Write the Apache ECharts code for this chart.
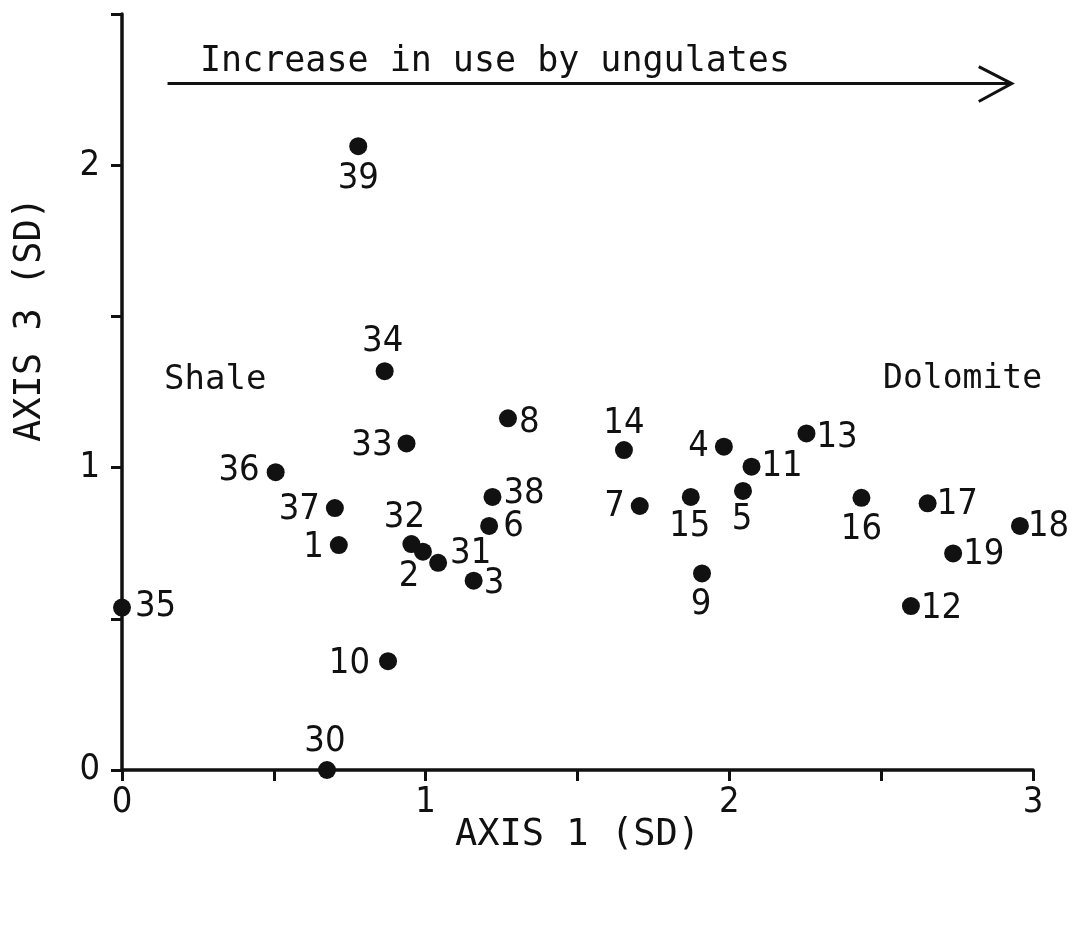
<!DOCTYPE html>
<html>
<head>
<meta charset="utf-8">
<script src="https://cdn.jsdelivr.net/npm/echarts@6/dist/echarts.min.js"></script>
<style>
html,body{margin:0;padding:0;background:#fff;}
#chart{width:1072px;height:938px;}
</style>
</head>
<body>
<div id="chart"></div>
<script>
// ---- data ----
const siteIds   = ['39','34','33','8','14','4','13','11','36','37','1','32','2','31','3','6','38','7','15','5','9','16','17','18','19','12','35','10','30'];
const axis1Vals = [0.778,0.865,0.937,1.271,1.653,1.982,2.254,2.073,0.506,0.701,0.714,0.953,0.991,1.041,1.158,1.209,1.220,1.705,1.873,2.045,1.910,2.435,2.653,2.957,2.737,2.598,0.000,0.876,0.675];
const axis3Vals = [2.063,1.319,1.080,1.163,1.058,1.069,1.113,1.003,0.985,0.866,0.744,0.747,0.722,0.685,0.626,0.807,0.903,0.873,0.903,0.923,0.650,0.900,0.882,0.807,0.716,0.542,0.537,0.360,0.000];
const xTickLabels = ['0','1','2','3'];
const yTickLabels = ['0','1','2'];
const xAxisTitle = 'AXIS 1 (SD)';
const yAxisTitle = 'AXIS 3 (SD)';
const arrowText = 'Increase in use by ungulates';
const leftZone = 'Shale';
const rightZone = 'Dolomite';

// ---- label placement (style only): [dx, dy, align] from the dot centre, in px ----
const labelShift = {
  '39':[0,32,'center'], '34':[-2,-29,'center'], '33':[-14,2,'right'], '8':[11,4,'left'],
  '14':[0,-26,'center'], '4':[-15,0,'right'], '13':[10,4,'left'], '11':[10,0,'left'],
  '36':[-16,-1,'right'], '37':[-15,2,'right'], '1':[-15,3,'right'], '32':[-7,-26,'center'],
  '2':[-14,25,'center'], '31':[12,-9,'left'], '3':[10,3,'left'], '6':[14,1,'left'],
  '38':[11,-3,'left'], '7':[-15,1,'right'], '15':[-1,30,'center'], '5':[-1,29,'center'],
  '9':[-1,31,'center'], '16':[0,32,'center'], '17':[9,1,'left'], '18':[8,1,'left'],
  '19':[10,1,'left'], '12':[10,3,'left'], '35':[13,-1,'left'], '10':[-18,3,'right'], '30':[-2,-28,'center']
};

const digitFont = '"Liberation Sans Narrow","DejaVu Sans Condensed",sans-serif';
const letterFont = '"DejaVu Sans Mono","Liberation Mono",monospace';
const ink = '#111';
const dotSize = 18;

const seriesData = siteIds.map((id, i) => {
  const s = labelShift[id] || [10, 0, 'left'];
  return {
    name: id,
    value: [axis1Vals[i], axis3Vals[i]],
    label: { position: [dotSize / 2 + s[0], dotSize / 2 + s[1]], align: s[2] }
  };
});

const chart = echarts.init(document.getElementById('chart'));
const gridLeft = 122, gridRight = 39, gridTop = 14, gridBottom = 168;

function tickFmt(list) {
  return function (v) {
    const s = String(Math.round(v * 100) / 100);
    return list.indexOf(s) >= 0 ? s : '';
  };
}

chart.setOption({
  backgroundColor: '#fff',
  animation: false,
  grid: { left: gridLeft, right: gridRight, top: gridTop, bottom: gridBottom, containLabel: false, outerBoundsMode: 'none' },
  xAxis: {
    type: 'value', min: 0, max: 3, interval: 0.5,
    name: xAxisTitle, nameLocation: 'middle', nameGap: 47, nameMoveOverlap: false,
    nameTextStyle: { fontFamily: letterFont, fontSize: 37, color: ink, verticalAlign: 'top' },
    axisLine: { show: true, onZero: false, lineStyle: { color: ink, width: 3.5 } },
    axisTick: { show: true, inside: false, length: 11, lineStyle: { color: ink, width: 3 } },
    axisLabel: { show: true, margin: 15, fontFamily: digitFont, fontSize: 36, color: ink, formatter: tickFmt(xTickLabels), showMinLabel: true, showMaxLabel: true },
    splitLine: { show: false }
  },
  yAxis: {
    type: 'value', min: 0, max: 2.5, interval: 0.5,
    axisLine: { show: true, onZero: false, lineStyle: { color: ink, width: 3.5 } },
    axisTick: { show: true, inside: false, length: 11, lineStyle: { color: ink, width: 3 } },
    axisLabel: { show: true, margin: 22, fontFamily: digitFont, fontSize: 36, color: ink, formatter: tickFmt(yTickLabels), showMinLabel: true, showMaxLabel: true },
    splitLine: { show: false }
  },
  series: [{
    type: 'scatter',
    symbol: 'circle',
    symbolSize: dotSize,
    itemStyle: { color: ink, opacity: 1 },
    label: {
      show: true, formatter: '{b}', align: 'center', verticalAlign: 'middle',
      fontFamily: digitFont, fontSize: 36, color: ink
    },
    labelLayout: { hideOverlap: false },
    data: seriesData,
    z: 5
  }]
});

// annotations placed from data coordinates
function px(x, y) { return chart.convertToPixel({ gridIndex: 0 }, [x, y]); }
const arrowY = px(0, 2.27)[1];
const arrowStart = px(0.15, 0)[0];
const arrowEnd = px(2.93, 0)[0];
const zoneY = px(0, 1.29)[1];
const yMid = px(0, 1.49)[1];

chart.setOption({
  graphic: [
    { type: 'line', shape: { x1: arrowStart, y1: arrowY, x2: arrowEnd, y2: arrowY }, style: { stroke: ink, lineWidth: 3 } },
    { type: 'polyline', shape: { points: [[arrowEnd - 33, arrowY - 17], [arrowEnd, arrowY], [arrowEnd - 33, arrowY + 18]] }, style: { stroke: ink, lineWidth: 3, fill: null } },
    { type: 'text', x: 200, y: arrowY - 4, style: { text: arrowText, font: '35px ' + letterFont, fill: ink, textAlign: 'left', textVerticalAlign: 'bottom' } },
    { type: 'text', x: 164, y: zoneY, style: { text: leftZone, font: '34px ' + letterFont, fill: ink, textAlign: 'left', textVerticalAlign: 'middle' } },
    { type: 'text', x: 1042, y: zoneY, style: { text: rightZone, font: '33px ' + letterFont, fill: ink, textAlign: 'right', textVerticalAlign: 'middle' } },
    { type: 'text', x: 30, y: yMid, rotation: Math.PI / 2, style: { text: yAxisTitle, font: '37px ' + letterFont, fill: ink, textAlign: 'center', textVerticalAlign: 'middle' } }
  ]
});
</script>
</body>
</html>
